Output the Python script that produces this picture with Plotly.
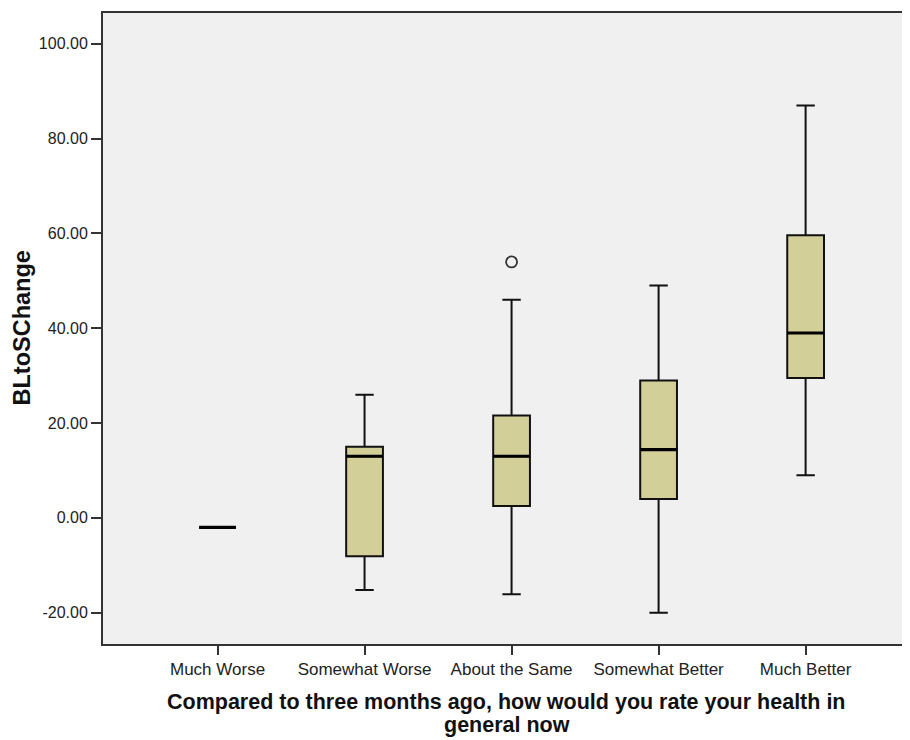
import plotly.graph_objects as go

categories = ["Much Worse", "Somewhat Worse", "About the Same", "Somewhat Better", "Much Better"]
lower_whisker = [-2.0, -15.2, -16.1, -20.0, 9.0]
q1_values = [-2.0, -8.1, 2.5, 4.0, 29.5]
median_values = [-2.0, 13.0, 13.0, 14.4, 39.0]
q3_values = [-2.0, 15.0, 21.6, 29.0, 59.6]
upper_whisker = [-2.0, 26.0, 46.0, 49.0, 87.0]
outlier_category = ["About the Same"]
outlier_values = [54.0]
y_tick_values = [-20, 0, 20, 40, 60, 80, 100]
y_tick_labels = ["-20.00", "0.00", "20.00", "40.00", "60.00", "80.00", "100.00"]
x_title_lines = ["Compared to three months ago, how would you rate your health in", "general now"]
y_title = "BLtoSChange"

box_fill = "#D3CF98"
box_width = 0.25
positions = list(range(len(categories)))

fig = go.Figure()
fig.add_trace(go.Box(
    x=positions,
    q1=q1_values,
    median=median_values,
    q3=q3_values,
    lowerfence=lower_whisker,
    upperfence=upper_whisker,
    width=box_width,
    whiskerwidth=0.5,
    fillcolor=box_fill,
    line=dict(color="#111111", width=2),
    boxpoints=False,
    showlegend=False,
    hoverinfo="skip",
))

# thicker median lines
mx, my = [], []
for p, m in zip(positions, median_values):
    mx += [p - box_width / 2, p + box_width / 2, None]
    my += [m, m, None]
fig.add_trace(go.Scatter(x=mx, y=my, mode="lines", line=dict(color="#000000", width=3.2),
                         showlegend=False, hoverinfo="skip"))

# outliers
fig.add_trace(go.Scatter(
    x=[categories.index(c) for c in outlier_category],
    y=outlier_values,
    mode="markers",
    marker=dict(symbol="circle-open", size=11, color="#333333", line=dict(width=1.8, color="#333333")),
    showlegend=False, hoverinfo="skip",
))

fig.update_layout(
    width=902, height=732,
    margin=dict(l=95, r=0, t=5, b=96, autoexpand=False),
    paper_bgcolor="white",
    plot_bgcolor="#F0F0F0",
    font=dict(family="Liberation Sans, Arial, sans-serif", color="#222222"),
)
fig.update_xaxes(
    range=[-0.779, 4.71],
    tickmode="array", tickvals=positions, ticktext=categories,
    tickfont=dict(size=17, color="#222222"),
    ticks="outside", ticklen=9, tickwidth=2, tickcolor="#333333",
    showline=True, linecolor="#333333", linewidth=2, mirror=True,
    showgrid=False, zeroline=False, automargin=False,
)
fig.update_yaxes(
    range=[-26.6, 106.5],
    tickmode="array", tickvals=y_tick_values, ticktext=y_tick_labels,
    tickfont=dict(size=16, color="#222222"),
    ticks="outside", ticklen=10, tickwidth=2, tickcolor="#333333",
    showline=True, linecolor="#333333", linewidth=2, mirror=False,
    showgrid=False, zeroline=False, automargin=False,
)

# axis titles placed as annotations for precise line spacing
fig.add_annotation(text="<b>" + x_title_lines[0] + "</b>", xref="paper", yref="paper",
                   x=0.5, y=0, yanchor="middle", yshift=-58, showarrow=False,
                   font=dict(size=21.5, color="#111111"))
fig.add_annotation(text="<b>" + x_title_lines[1] + "</b>", xref="paper", yref="paper",
                   x=0.5, y=0, yanchor="middle", yshift=-81, showarrow=False,
                   font=dict(size=21.5, color="#111111"))
fig.add_annotation(text="<b>" + y_title + "</b>", xref="paper", yref="paper",
                   x=0, y=0.5, xanchor="center", xshift=-82, showarrow=False, textangle=-90,
                   font=dict(size=23.5, color="#111111"))

fig.write_html("out.html")
